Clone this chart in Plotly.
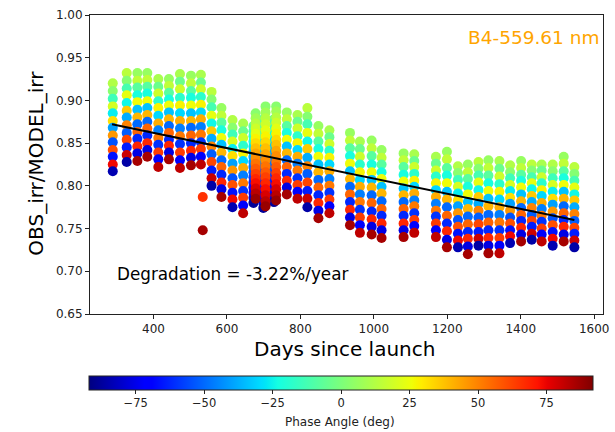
import numpy as np
import plotly.graph_objects as go

# ---------------- data ----------------
COLUMN_DAYS = [289, 327, 356, 383, 413, 442, 472, 502, 529, 558, 585, 615, 644,
               763, 792, 819, 849, 879,
               935, 962, 994, 1021, 1081, 1110,
               1169, 1199, 1229, 1256, 1285, 1312, 1342, 1371, 1401, 1430, 1457, 1487, 1517, 1546]

COLUMN_RATIOS = [
    [.920, .911, .902, .893, .885, .876, .868, .859, .851, .842, .834, .825, .817],
    [.932, .923, .914, .906, .897, .888, .880, .871, .862, .854, .845, .836, .828],
    [.932, .923, .915, .906, .898, .889, .880, .872, .863, .855, .846, .838, .829],
    [.932, .924, .916, .908, .899, .891, .883, .875, .867, .859, .850, .842, .834],
    [.925, .916, .908, .899, .891, .882, .873, .865, .856, .848, .839, .831, .822],
    [.925, .917, .909, .901, .894, .886, .878, .870, .862, .854, .847, .839, .831],
    [.931, .922, .913, .903, .894, .885, .876, .867, .858, .849, .839, .830, .821],
    [.929, .920, .911, .903, .894, .885, .876, .868, .859, .850, .841, .833, .824],
    [.930, .921, .913, .904, .895, .886, .878, .869, .860, .851, .843, .834, .825],
    [.910, .901, .892, .882, .873, .864, .855, .846, .837, .828, .818, .809, .800],
    [.891, .882, .874, .865, .856, .848, .839, .830, .822, .813, .804, .796, .787],
    [.877, .868, .860, .852, .843, .835, .826, .818, .809, .801, .792, .784, .775],
    [.873, .864, .856, .847, .838, .829, .821, .812, .803, .794, .786, .777, .768],
    [.886, .878, .870, .862, .854, .846, .838, .830, .822, .814, .806, .798, .790],
    [.883, .875, .867, .858, .850, .842, .834, .826, .818, .809, .801, .793, .785],
    [.891, .881, .872, .862, .852, .843, .833, .823, .814, .804, .794, .785, .775],
    [.870, .861, .852, .843, .834, .825, .816, .807, .798, .789, .780, .771, .762],
    [.865, .857, .849, .841, .833, .825, .817, .808, .800, .792, .784, .776, .768],
    [.862, .853, .844, .835, .826, .817, .808, .799, .790, .781, .772, .763, .754],
    [.852, .843, .834, .825, .816, .807, .799, .790, .781, .772, .763, .754, .745],
    [.853, .844, .835, .825, .816, .807, .798, .789, .780, .770, .761, .752, .743],
    [.842, .833, .825, .816, .808, .799, .791, .782, .773, .765, .756, .748, .739],
    [.838, .830, .822, .813, .805, .797, .789, .781, .773, .765, .756, .748, .740],
    [.837, .829, .822, .814, .806, .799, .791, .783, .776, .768, .760, .753, .745],
    [.834, .826, .818, .811, .803, .795, .787, .779, .771, .764, .756, .748, .740],
    [.840, .831, .821, .812, .803, .793, .784, .775, .765, .756, .747, .737, .728],
    [.823, .815, .807, .799, .791, .783, .776, .768, .760, .752, .744, .736, .728],
    [.825, .816, .808, .799, .790, .781, .773, .764, .755, .746, .738, .729, .720],
    [.828, .820, .812, .804, .795, .787, .779, .771, .763, .755, .746, .738, .730],
    [.830, .821, .812, .803, .794, .785, .776, .766, .757, .748, .739, .730, .721],
    [.829, .820, .811, .802, .793, .784, .775, .766, .757, .748, .739, .730, .721],
    [.824, .816, .809, .801, .794, .786, .779, .771, .763, .756, .748, .741, .733],
    [.829, .821, .813, .806, .798, .790, .782, .774, .766, .759, .751, .743, .735],
    [.825, .818, .810, .803, .796, .788, .781, .774, .766, .759, .752, .744, .737],
    [.825, .818, .810, .803, .795, .788, .780, .773, .765, .758, .750, .743, .735],
    [.825, .817, .809, .801, .793, .785, .778, .770, .762, .754, .746, .738, .730],
    [.834, .826, .817, .809, .801, .793, .785, .776, .768, .760, .752, .743, .735],
    [.822, .814, .806, .798, .790, .783, .775, .767, .759, .751, .744, .736, .728],
]

PHASES_A = [12, 3, -14, 20, -26, 32, -40, 46, -54, 60, -66, 74, -84]
PHASES_B = [6, 15, -8, -22, 26, -34, 40, -50, 56, -62, 68, -76, 86]
PHASES_C = [10, -4, 18, -18, 28, -30, 42, -46, 52, -60, 64, -72, 82]
PHASES_D = [14, 2, -12, 24, -24, 36, -38, 50, -52, 62, -64, 80, -86]

COLUMN_PHASES = [PHASES_A, PHASES_D, PHASES_B, PHASES_B, PHASES_C, PHASES_B, PHASES_C,
                 PHASES_B, PHASES_C, PHASES_D, PHASES_B, PHASES_A, PHASES_C,
                 PHASES_B, PHASES_C, PHASES_D, PHASES_B, PHASES_C,
                 PHASES_B, PHASES_C, PHASES_B, PHASES_B, PHASES_B, PHASES_C,
                 PHASES_C, PHASES_B, PHASES_A, PHASES_B, PHASES_D, PHASES_B, PHASES_C,
                 PHASES_A, PHASES_B, PHASES_D, PHASES_C, PHASES_A, PHASES_B, PHASES_D]

# dense observation runs (~day 680-735)
DENSE_NEG_DAYS = [672, 699, 728]
DENSE_NEG_PHASES = [-8, -13, -18, -23, -28, -33, -38, -43, -48, -53, -58, -63, -68, -73, -80, -88]
DENSE_NEG_RATIOS = [
    [.870, .864, .858, .852, .846, .840, .834, .828, .822, .816, .810, .804, .798, .792, .786, .780],
    [.878, .871, .864, .857, .850, .843, .836, .829, .822, .815, .808, .801, .794, .787, .780, .774],
    [.878, .872, .865, .859, .852, .846, .839, .833, .826, .820, .813, .807, .800, .794, .787, .781],
]
DENSE_POS_DAYS = [678, 705, 734]
DENSE_POS_PHASES = [3, 8, 13, 18, 23, 28, 33, 38, 43, 48, 53, 58, 63, 68, 73, 78, 83, 88]
DENSE_POS_RATIOS = [
    [.885, .879, .873, .867, .861, .855, .850, .844, .838, .832, .826, .820, .814, .808, .803, .797, .791, .785],
    [.893, .886, .879, .872, .865, .858, .851, .844, .837, .830, .823, .816, .810, .803, .796, .789, .782, .776],
    [.893, .887, .880, .874, .867, .861, .854, .848, .841, .835, .828, .822, .815, .809, .802, .796, .789, .783],
]

EXTRA_DAYS = [534, 534]
EXTRA_RATIOS = [0.787, 0.748]
EXTRA_PHASES = [66, 86]

FIT_DAYS = [287, 1546]
FIT_RATIOS = [0.872, 0.760]

X_TICKS = [400, 600, 800, 1000, 1200, 1400, 1600]
Y_TICKS = [0.65, 0.70, 0.75, 0.80, 0.85, 0.90, 0.95, 1.00]
CB_TICKS = [-75, -50, -25, 0, 25, 50, 75]

# ---------------- matplotlib "jet" colour scale ----------------
_r = [(0, 0), (0.35, 0), (0.66, 1), (0.89, 1), (1, 0.5)]
_g = [(0, 0), (0.125, 0), (0.375, 1), (0.64, 1), (0.91, 0), (1, 0)]
_b = [(0, 0.5), (0.11, 1), (0.34, 1), (0.65, 0), (1, 0)]
_stops = sorted(set([p for seg in (_r, _g, _b) for p, _ in seg]))
def _ch(seg, t):
    return float(np.interp(t, [p for p, _ in seg], [v for _, v in seg]))
JET = [[t, "rgb(%d,%d,%d)" % (round(255 * _ch(_r, t)), round(255 * _ch(_g, t)), round(255 * _ch(_b, t)))]
       for t in _stops]

# ---------------- assemble points ----------------
xs, ys, cs = [], [], []
for d, rr, pp in zip(DENSE_NEG_DAYS, DENSE_NEG_RATIOS, [DENSE_NEG_PHASES] * 3):
    xs += [d] * len(rr); ys += rr; cs += pp
for d, rr, pp in zip(DENSE_POS_DAYS, DENSE_POS_RATIOS, [DENSE_POS_PHASES] * 3):
    xs += [d] * len(rr); ys += rr; cs += pp
for d, rr, pp in zip(COLUMN_DAYS, COLUMN_RATIOS, COLUMN_PHASES):
    xs += [d] * len(rr); ys += rr; cs += pp
xs += EXTRA_DAYS; ys += EXTRA_RATIOS; cs += EXTRA_PHASES

FONT = "DejaVu Sans"
W, H = 615, 432
ML, MR, MT, MB = 90, 6, 15, 118
PW, PH = W - ML - MR, H - MT - MB

def px_x(p):
    return (p - ML) / PW
def px_y(p):
    return (H - MB - p) / PH

fig = go.Figure()
fig.add_trace(go.Scatter(
    x=xs, y=ys, mode="markers", hoverinfo="skip", showlegend=False,
    marker=dict(size=10, color=cs, colorscale=JET, cmin=-92, cmax=92, line=dict(width=0),
                colorbar=dict(orientation="h", thickness=14, len=510 / PW, lenmode="fraction",
                              x=px_x(344), xanchor="center", y=px_y(376), yanchor="top",
                              xpad=0, ypad=0, outlinewidth=1, outlinecolor="#222",
                              tickvals=CB_TICKS, ticks="outside", ticklen=3.5, tickcolor="#222",
                              tickfont=dict(family=FONT, size=11.5, color="#222")))))
fig.add_trace(go.Scatter(x=FIT_DAYS, y=FIT_RATIOS, mode="lines", hoverinfo="skip",
                         showlegend=False, line=dict(color="black", width=2)))

axis_common = dict(showgrid=False, zeroline=False, showline=True, linecolor="#222", linewidth=1,
                   mirror=True, ticks="outside", ticklen=4, tickcolor="#222",
                   ticklabeloverflow="allow",
                   tickfont=dict(family=FONT, size=12, color="#222"))
fig.update_layout(
    width=W, height=H, margin=dict(l=ML, r=MR, t=MT, b=MB),
    paper_bgcolor="white", plot_bgcolor="white",
    font=dict(family=FONT, color="#222"),
    xaxis=dict(range=[227, 1624], tickvals=X_TICKS, **axis_common),
    yaxis=dict(range=[0.65, 1.0], tickvals=Y_TICKS, tickformat=".2f", **axis_common),
    annotations=[
        dict(text="B4-559.61 nm", x=px_x(608), y=px_y(38), xref="paper", yref="paper",
             xanchor="right", yanchor="middle", showarrow=False,
             font=dict(family=FONT, size=18.5, color="#FFA500")),
        dict(text="Degradation = -3.22%/year", x=px_x(115), y=px_y(274), xref="paper", yref="paper",
             xanchor="left", yanchor="middle", showarrow=False,
             font=dict(family=FONT, size=16.8, color="black")),
        dict(text="Days since launch", x=px_x(347), y=px_y(349), xref="paper", yref="paper",
             xanchor="center", yanchor="middle", showarrow=False,
             font=dict(family=FONT, size=20, color="black")),
        dict(text="OBS_irr/MODEL_irr", x=px_x(35), y=px_y(163), xref="paper", yref="paper",
             xanchor="center", yanchor="middle", showarrow=False, textangle=-90,
             font=dict(family=FONT, size=20, color="black")),
        dict(text="Phase Angle (deg)", x=px_x(343), y=px_y(422), xref="paper", yref="paper",
             xanchor="center", yanchor="middle", showarrow=False,
             font=dict(family=FONT, size=12, color="#222")),
    ],
)
fig.write_html("out.html")
